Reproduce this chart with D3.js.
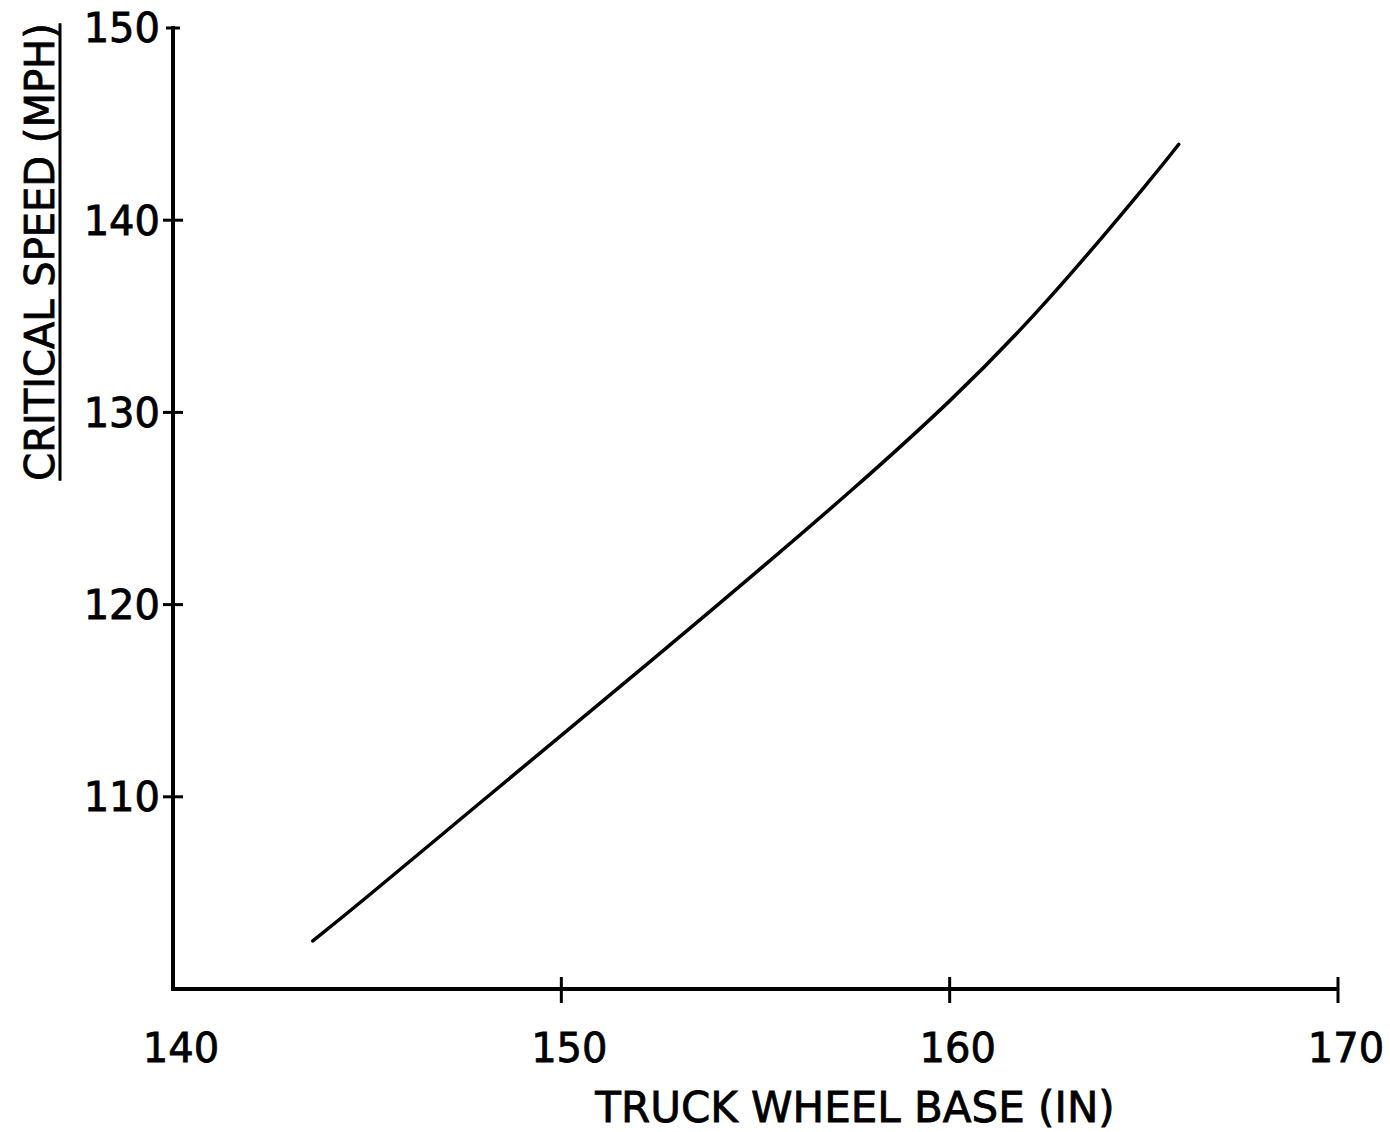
<!DOCTYPE html>
<html>
<head>
<meta charset="utf-8">
<script src="https://cdn.jsdelivr.net/npm/d3@7"></script>
<style>
  body { margin: 0; background: #fff; }
  text { font-family: "DejaVu Sans", sans-serif; fill: #000; stroke: #000; stroke-width: 0.8px; }
</style>
</head>
<body>
<div id="chart"></div>
<script>
// curve
const wheelBase = [143.6, 145, 147.5, 150, 152.5, 155, 157.5, 160, 162.5, 165, 165.9];
const critSpeed = [102.5, 104.8, 109.0, 113.2, 117.4, 121.65, 126.0, 130.6, 135.8, 141.7, 143.95];
const xTicks = [140, 150, 160, 170];
const yTicks = [110, 120, 130, 140, 150];

let width = 1390;
let height = 1132;

let svg = d3.select("#chart").append("svg")
    .attr("width", width)
    .attr("height", height);

let x = d3.scaleLinear().domain([140, 170]).range([173, 1338]);
let y = d3.scaleLinear().domain([100, 150]).range([989, 28]);

// axes lines
svg.append("line")
    .attr("x1", x(140)).attr("x2", x(140))
    .attr("y1", y(150) - 2).attr("y2", y(100) + 2)
    .attr("stroke", "#000").attr("stroke-width", 4);
svg.append("line")
    .attr("x1", x(140) - 2).attr("x2", x(170))
    .attr("y1", y(100)).attr("y2", y(100))
    .attr("stroke", "#000").attr("stroke-width", 4);

// y ticks (cross the axis)
svg.selectAll(".ytick").data(yTicks).enter().append("line")
    .attr("class", "ytick")
    .attr("x1", d => d == 150 ? x(140) - 7 : x(140) - 10)
    .attr("x2", d => d == 150 ? x(140) + 7 : x(140) + 10)
    .attr("y1", d => y(d)).attr("y2", d => y(d))
    .attr("stroke", "#000").attr("stroke-width", 3);

svg.selectAll(".ylab").data(yTicks).enter().append("text")
    .attr("x", 160)
    .attr("y", d => y(d))
    .attr("dy", "0.36em")
    .attr("text-anchor", "end")
    .style("font-size", "40px")
    .text(d => d);

// x ticks (skip 140, it sits on the corner)
svg.selectAll(".xtick").data(xTicks.slice(1)).enter().append("line")
    .attr("class", "xtick")
    .attr("x1", d => x(d)).attr("x2", d => x(d))
    .attr("y1", y(100) - 12).attr("y2", y(100) + 14)
    .attr("stroke", "#000").attr("stroke-width", 3);

svg.selectAll(".xlab").data(xTicks).enter().append("text")
    .attr("x", d => x(d) + 8)
    .attr("y", 1062)
    .attr("text-anchor", "middle")
    .style("font-size", "40px")
    .text(d => d);

// axis titles
svg.append("text")
    .attr("x", 855)
    .attr("y", 1122)
    .attr("text-anchor", "middle")
    .style("font-size", "42px")
    .text("TRUCK WHEEL BASE (IN)");

let yTitle = svg.append("text")
    .attr("transform", "translate(54, 252) rotate(-90)")
    .attr("text-anchor", "middle")
    .style("font-size", "40px")
    .text("CRITICAL SPEED (MPH)");
let bb = yTitle.node().getBBox();
svg.append("line")
    .attr("x1", 60).attr("x2", 60)
    .attr("y1", 252 - bb.width / 2).attr("y2", 252 + bb.width / 2)
    .attr("stroke", "#000").attr("stroke-width", 3);

// the curve
let pts = wheelBase.map((d, i) => [d, critSpeed[i]]);
let line = d3.line()
    .x(d => x(d[0]))
    .y(d => y(d[1]))
    .curve(d3.curveNatural);

svg.append("path")
    .datum(pts)
    .attr("d", line)
    .attr("fill", "none")
    .attr("stroke", "#000")
    .attr("stroke-width", 3.5)
    .attr("stroke-linecap", "round");
</script>
</body>
</html>
